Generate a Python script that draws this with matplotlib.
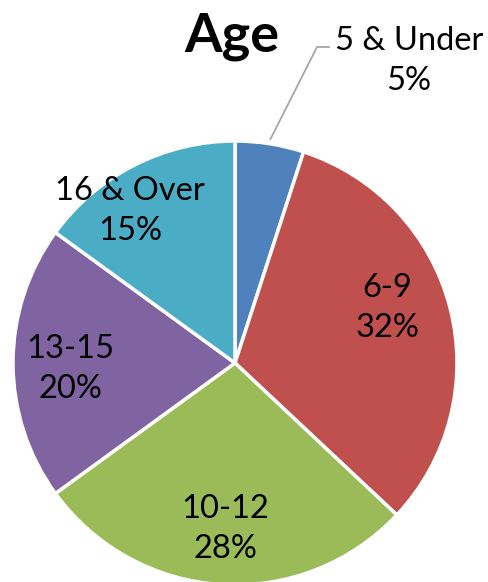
import matplotlib
matplotlib.use("Agg")
import matplotlib.pyplot as plt

categories = ["5 & Under", "6-9", "10-12", "13-15", "16 & Over"]
values = [5, 32, 28, 20, 15]
colors = ["#4F81BD", "#C0504D", "#9BBB59", "#8064A2", "#4BACC6"]
title = "Age"

W, H = 489, 582
fig = plt.figure(figsize=(W / 100, H / 100), dpi=100)
ax = fig.add_axes([0, 0, 1, 1])

cx, cy, r = 235, H - 363, 222
ax.pie(values, colors=colors, startangle=90, counterclock=False,
       center=(cx, cy), radius=r, frame=True,
       wedgeprops=dict(edgecolor="white", linewidth=2.5))
ax.set_xlim(0, W)
ax.set_ylim(0, H)
ax.set_aspect("equal")
ax.axis("off")

font = "Lato"
fs = 23.5
label_pos = [(409, H - 61), (387, H - 308), (225, H - 529), (70, H - 369), (130, H - 211)]
for (x, y), c, v in zip(label_pos, categories, values):
    ax.text(x, y, f"{c}\n{v}%", ha="center", va="center", fontsize=fs,
            family=font, linespacing=1.4, color="black")

# leader line for the small slice
ax.plot([270, 317, 330], [H - 140, H - 47, H - 47], color="#A6A6A6", lw=1.3,
        solid_capstyle="butt")

ax.text(232, H - 36, title, ha="center", va="center", fontsize=39,
        fontweight="bold", family=font)

fig.savefig("out.png", dpi=100)
